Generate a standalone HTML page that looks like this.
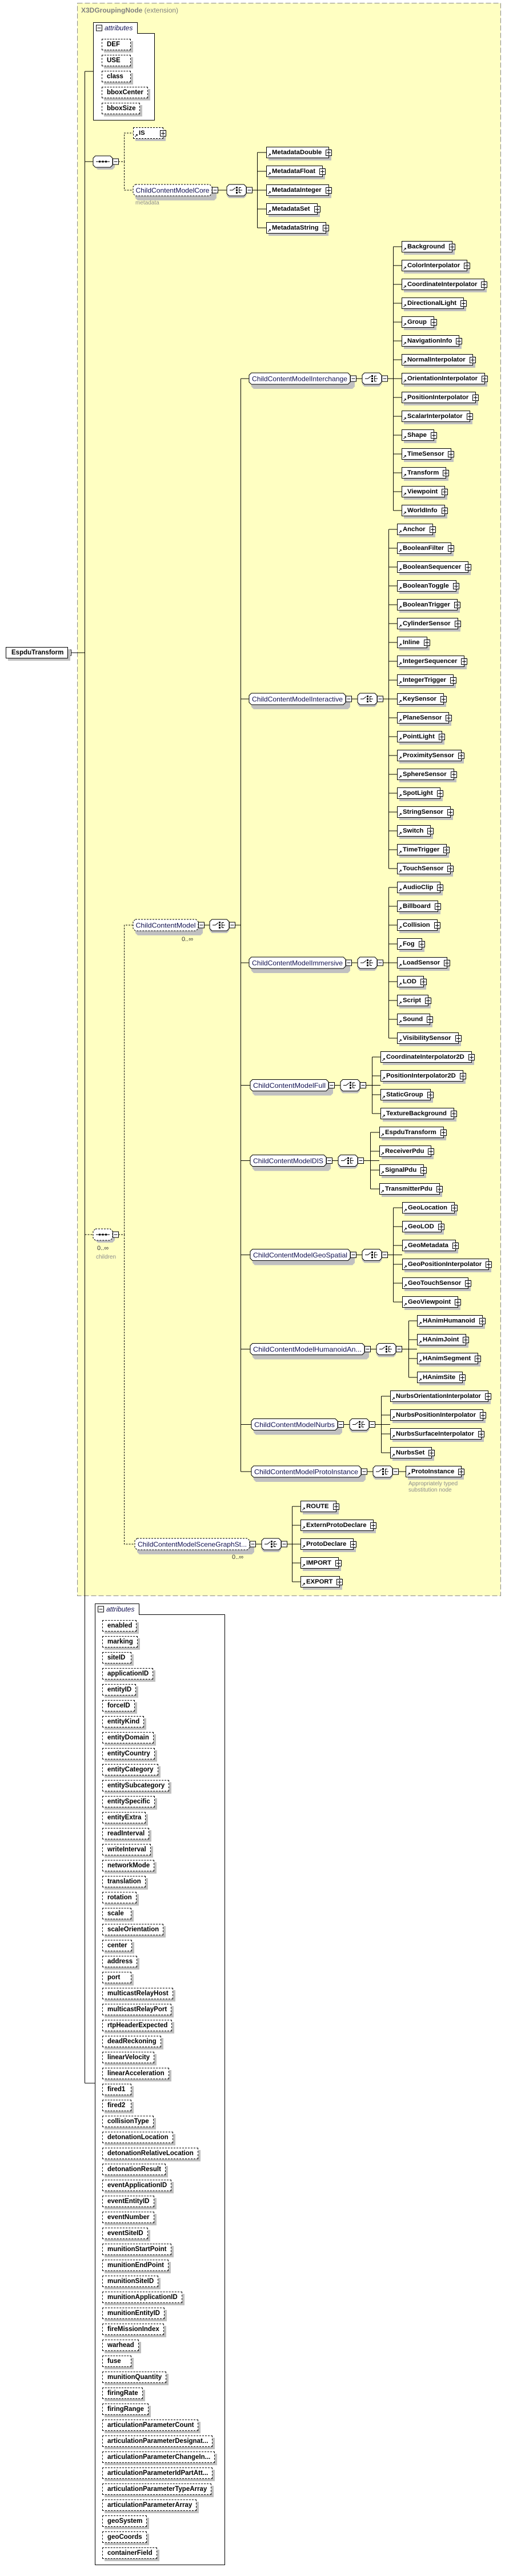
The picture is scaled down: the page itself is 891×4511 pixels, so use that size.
<!DOCTYPE html>
<html><head><meta charset="utf-8">
<style>
html,body{margin:0;padding:0;background:#fff}
#pg{position:relative;width:891px;height:4511px;overflow:hidden;background:#fff;font-family:"Liberation Sans",Arial,sans-serif}
svg{position:absolute;left:0;top:0}
.e,.a,.rt{position:absolute;height:18px;line-height:18px;background:#fff;box-shadow:4px 4px 0 #c0c0c0;font-weight:bold;font-size:11.3px;white-space:nowrap;color:#000}
.e{border:1px solid #000;padding:0 12px 0 9px}
.e.d{border-style:dashed}
.a{border:1px dashed #000;padding:0 7px 0 8px;min-width:34px;font-size:11.5px}
.rt{border:1px solid #000;box-sizing:border-box;height:20px;padding-left:9px;font-size:11.5px}
.e i{position:absolute;right:-6px;top:4px;width:9px;height:9px;border:1px solid #000;background:#fff}
.e i:before{content:"";position:absolute;left:1px;top:4px;width:7px;height:1px;background:#000}
.e i:after{content:"";position:absolute;left:4px;top:1px;width:1px;height:7px;background:#000}
.e b{position:absolute;left:1px;bottom:0;font-size:8px;line-height:8px}
.g{font-size:10px;fill:#8c8c8c}
</style></head><body><div id="pg">
<svg width="891" height="4511" viewBox="0 0 891 4511">
<defs>
<symbol id="mn" overflow="visible"><rect x="0.5" y="-5" width="10" height="10" fill="#fff" stroke="#000"/><path d="M2.5 0H8.5" stroke="#000"/></symbol>
<symbol id="sel" overflow="visible"><path d="M4 -6H30L34 -2V10L30 14H4L0 10V-2Z" fill="#c0c0c0" transform="translate(0,0)"/><path d="M4 -10H30L34 -6V6L30 10H4L0 6V-6Z" fill="#fff" stroke="#000"/><path d="M5 0H10L15 -4M21.5 -5V5M21.5 -4.5H25M21.5 4.5H25M21.5 0H27" stroke="#000" fill="none"/><rect x="16" y="-6" width="3" height="3"/><rect x="16" y="-1.5" width="3" height="3"/><rect x="16" y="3" width="3" height="3"/></symbol>
<symbol id="seq" overflow="visible"><path d="M8 -6H34L38 -2V10L34 14H8L4 10V-2Z" fill="#c0c0c0"/><path d="M4 -10H30L34 -6V6L30 10H4L0 6V-6Z" fill="#fff" stroke="#000"/><path d="M5 0H29" stroke="#000"/><rect x="10" y="-1.5" width="3" height="3"/><rect x="15.5" y="-1.5" width="3" height="3"/><rect x="21" y="-1.5" width="3" height="3"/></symbol>
<symbol id="seqd" overflow="visible"><path d="M8 -6H34L38 -2V10L34 14H8L4 10V-2Z" fill="#c0c0c0"/><path d="M4 -10H30L34 -6V6L30 10H4L0 6V-6Z" fill="#fff" stroke="#000" stroke-dasharray="3,2"/><path d="M5 0H29" stroke="#000"/><rect x="10" y="-1.5" width="3" height="3"/><rect x="15.5" y="-1.5" width="3" height="3"/><rect x="21" y="-1.5" width="3" height="3"/></symbol>
</defs>
<rect x="135.5" y="5.5" width="741" height="2789" fill="#ffffc2" stroke="#8a8a8a" stroke-dasharray="9,4"/>
<text x="142" y="22" font-size="12" fill="#808080"><tspan font-weight="bold">X3DGroupingNode</tspan> (extension)</text>

<g stroke="#000" fill="none">
<path d="M148.5 125V3648"/>
<path d="M124 1143H148.5M148.5 125H163M148.5 283H163M148.5 3648H166"/>
<path d="M148.5 2162H163" stroke-dasharray="3,2"/>
<path d="M207 283H217.5V233H233M217.5 283V333H233" stroke-dasharray="3,2"/>
<path d="M207 2162H217.5V1620H233M217.5 2162V2704H236" stroke-dasharray="3,2"/>
<path d="M421.5 663V2577"/>
<path d="M421.5 663H436M421.5 1224H436M421.5 1686H436M421.5 1900.5H438M421.5 2032.5H438M421.5 2197.5H438M421.5 2362.5H438M421.5 2494.5H440M421.5 2577H440"/>
</g>

<!-- attributes boxes -->
<path d="M163.5 39.5H240.5V58.5H270.5V210.5H163.5Z" fill="#fff" stroke="#000"/>
<use href="#mn" x="168" y="49"/>
<text x="183" y="53" font-size="12" font-style="italic" fill="#101050">attributes</text>
<path d="M166.5 2808.5H243.5V2827.5H393.5V4491.5H166.5Z" fill="#fff" stroke="#000"/>
<use href="#mn" x="171" y="2818"/>
<text x="186" y="2822" font-size="12" font-style="italic" fill="#101050">attributes</text>

<!-- root minus -->
<use href="#mn" x="114" y="1143"/>

<!-- sequence 1 -->
<use href="#seq" x="163" y="283"/><use href="#mn" x="197" y="283"/>
<!-- sequence 2 -->
<use href="#seqd" x="163" y="2162"/><use href="#mn" x="197" y="2162"/>
<text x="170" y="2189" font-size="11" fill="#333">0..∞</text>
<text x="168" y="2204" class="g">children</text>

<!-- Core -->
<g transform="translate(0,333)">
<path d="M237 -6H371L375 -2V10L371 14H237L233 10V-2Z" transform="translate(4,4)" fill="#c0c0c0"/>
<path d="M237 -10H367L371 -6V6L367 10H237L233 6V-6Z" fill="#fff" stroke="#000" stroke-dasharray="3,2"/>
<text x="237.5" y="4.5" font-size="12" fill="#101050" textLength="129" lengthAdjust="spacingAndGlyphs">ChildContentModelCore</text>
<use href="#mn" x="371"/><path d="M382 0H397M442 0H466M450.5 -66V66M450.5 -66H466M450.5 -33H466M450.5 33H466M450.5 66H466" stroke="#000" fill="none"/>
<use href="#sel" x="397"/><use href="#mn" x="431"/>
</g>
<text x="237" y="358" class="g">metadata</text>

<!-- ChildContentModel -->
<g transform="translate(0,1620)">
<path d="M237 -6H347L351 -2V10L347 14H237L233 10V-2Z" transform="translate(4,4)" fill="#c0c0c0"/>
<path d="M237 -10H343L347 -6V6L343 10H237L233 6V-6Z" fill="#fff" stroke="#000" stroke-dasharray="3,2"/>
<text x="237.5" y="4.5" font-size="12" fill="#101050" textLength="105" lengthAdjust="spacingAndGlyphs">ChildContentModel</text>
<use href="#mn" x="347"/><path d="M358 0H367M412 0H421.5" stroke="#000"/>
<use href="#sel" x="367"/><use href="#mn" x="401"/>
</g>
<text x="318" y="1648" font-size="11" fill="#333">0..∞</text>

<!-- Interchange -->
<g transform="translate(0,663)">
<path d="M440 -6H613L617 -2V10L613 14H440L436 10V-2Z" transform="translate(4,4)" fill="#c0c0c0"/>
<path d="M440 -10H609L613 -6V6L609 10H440L436 6V-6Z" fill="#fff" stroke="#000"/>
<text x="441" y="4.5" font-size="12" fill="#101050" textLength="167" lengthAdjust="spacingAndGlyphs">ChildContentModelInterchange</text>
<use href="#mn" x="613"/><use href="#sel" x="634"/><use href="#mn" x="668"/>
<path d="M624 0H634M679 0H703M688.5 -231V231" stroke="#000" fill="none"/>
</g>
<path d="M688.5 432H703M688.5 465H703M688.5 498H703M688.5 531H703M688.5 564H703M688.5 597H703M688.5 630H703M688.5 696H703M688.5 729H703M688.5 762H703M688.5 795H703M688.5 828H703M688.5 861H703M688.5 894H703" stroke="#000"/>

<!-- Interactive -->
<g transform="translate(0,1224)">
<path d="M440 -6H605L609 -2V10L605 14H440L436 10V-2Z" transform="translate(4,4)" fill="#c0c0c0"/>
<path d="M440 -10H601L605 -6V6L601 10H440L436 6V-6Z" fill="#fff" stroke="#000"/>
<text x="441" y="4.5" font-size="12" fill="#101050" textLength="159" lengthAdjust="spacingAndGlyphs">ChildContentModelInteractive</text>
<use href="#mn" x="605"/><use href="#sel" x="626"/><use href="#mn" x="660"/>
<path d="M616 0H626M671 0H695M680.5 -297V297" stroke="#000" fill="none"/>
</g>
<path d="M680.5 927H695M680.5 960H695M680.5 993H695M680.5 1026H695M680.5 1059H695M680.5 1092H695M680.5 1125H695M680.5 1158H695M680.5 1191H695M680.5 1257H695M680.5 1290H695M680.5 1323H695M680.5 1356H695M680.5 1389H695M680.5 1422H695M680.5 1455H695M680.5 1488H695M680.5 1521H695" stroke="#000"/>

<!-- Immersive -->
<g transform="translate(0,1686)">
<path d="M440 -6H605L609 -2V10L605 14H440L436 10V-2Z" transform="translate(4,4)" fill="#c0c0c0"/>
<path d="M440 -10H601L605 -6V6L601 10H440L436 6V-6Z" fill="#fff" stroke="#000"/>
<text x="441" y="4.5" font-size="12" fill="#101050" textLength="159" lengthAdjust="spacingAndGlyphs">ChildContentModelImmersive</text>
<use href="#mn" x="605"/><use href="#sel" x="626"/><use href="#mn" x="660"/>
<path d="M616 0H626M671 0H695M680.5 -132V132" stroke="#000" fill="none"/>
</g>
<path d="M680.5 1554H695M680.5 1587H695M680.5 1620H695M680.5 1653H695M680.5 1719H695M680.5 1752H695M680.5 1785H695M680.5 1818H695" stroke="#000"/>

<!-- Full -->
<g transform="translate(0,1900.5)">
<path d="M442 -6H575L579 -2V10L575 14H442L438 10V-2Z" transform="translate(4,4)" fill="#c0c0c0"/>
<path d="M442 -10H571L575 -6V6L571 10H442L438 6V-6Z" fill="#fff" stroke="#000"/>
<text x="443" y="4.5" font-size="12" fill="#101050" textLength="127" lengthAdjust="spacingAndGlyphs">ChildContentModelFull</text>
<use href="#mn" x="575"/><use href="#sel" x="596"/><use href="#mn" x="630"/>
<path d="M586 0H596M641 0H666M651.5 -49.5V49.5M651.5 -49.5H666M651.5 -16.5H666M651.5 16.5H666M651.5 49.5H666" stroke="#000" fill="none"/>
</g>

<!-- DIS -->
<g transform="translate(0,2032.5)">
<path d="M442 -6H571L575 -2V10L571 14H442L438 10V-2Z" transform="translate(4,4)" fill="#c0c0c0"/>
<path d="M442 -10H567L571 -6V6L567 10H442L438 6V-6Z" fill="#fff" stroke="#000"/>
<text x="443" y="4.5" font-size="12" fill="#101050" textLength="123" lengthAdjust="spacingAndGlyphs">ChildContentModelDIS</text>
<use href="#mn" x="571"/><use href="#sel" x="592"/><use href="#mn" x="626"/>
<path d="M582 0H592M637 0H664M648.5 -49.5V49.5M648.5 -49.5H664M648.5 -16.5H664M648.5 16.5H664M648.5 49.5H664" stroke="#000" fill="none"/>
</g>

<!-- GeoSpatial -->
<g transform="translate(0,2197.5)">
<path d="M442 -6H613L617 -2V10L613 14H442L438 10V-2Z" transform="translate(4,4)" fill="#c0c0c0"/>
<path d="M442 -10H609L613 -6V6L609 10H442L438 6V-6Z" fill="#fff" stroke="#000"/>
<text x="443" y="4.5" font-size="12" fill="#101050" textLength="165" lengthAdjust="spacingAndGlyphs">ChildContentModelGeoSpatial</text>
<use href="#mn" x="613"/><use href="#sel" x="634"/><use href="#mn" x="668"/>
<path d="M624 0H634M679 0H704M688.5 -82.5V82.5M688.5 -82.5H704M688.5 -49.5H704M688.5 -16.5H704M688.5 16.5H704M688.5 49.5H704M688.5 82.5H704" stroke="#000" fill="none"/>
</g>

<!-- HAnim -->
<g transform="translate(0,2362.5)">
<path d="M442 -6H638L642 -2V10L638 14H442L438 10V-2Z" transform="translate(4,4)" fill="#c0c0c0"/>
<path d="M442 -10H634L638 -6V6L634 10H442L438 6V-6Z" fill="#fff" stroke="#000"/>
<text x="443" y="4.5" font-size="12" fill="#101050" textLength="190" lengthAdjust="spacingAndGlyphs">ChildContentModelHumanoidAn...</text>
<use href="#mn" x="638"/><use href="#sel" x="659"/><use href="#mn" x="693"/>
<path d="M649 0H659M704 0H730M715.5 -49.5V49.5M715.5 -49.5H730M715.5 -16.5H730M715.5 16.5H730M715.5 49.5H730" stroke="#000" fill="none"/>
</g>

<!-- Nurbs -->
<g transform="translate(0,2494.5)">
<path d="M444 -6H591L595 -2V10L591 14H444L440 10V-2Z" transform="translate(4,4)" fill="#c0c0c0"/>
<path d="M444 -10H587L591 -6V6L587 10H444L440 6V-6Z" fill="#fff" stroke="#000"/>
<text x="445" y="4.5" font-size="12" fill="#101050" textLength="141" lengthAdjust="spacingAndGlyphs">ChildContentModelNurbs</text>
<use href="#mn" x="591"/><use href="#sel" x="612"/><use href="#mn" x="646"/>
<path d="M602 0H612M657 0H683M667.5 -49.5V49.5M667.5 -49.5H683M667.5 -16.5H683M667.5 16.5H683M667.5 49.5H683" stroke="#000" fill="none"/>
</g>

<!-- ProtoInstance -->
<g transform="translate(0,2577)">
<path d="M444 -6H632L636 -2V10L632 14H444L440 10V-2Z" transform="translate(4,4)" fill="#c0c0c0"/>
<path d="M444 -10H628L632 -6V6L628 10H444L440 6V-6Z" fill="#fff" stroke="#000"/>
<text x="445" y="4.5" font-size="12" fill="#101050" textLength="182" lengthAdjust="spacingAndGlyphs">ChildContentModelProtoInstance</text>
<use href="#mn" x="632"/><use href="#sel" x="653"/><use href="#mn" x="687"/>
<path d="M643 0H653M698 0H710" stroke="#000" fill="none"/>
</g>
<text x="715" y="2601" class="g" font-size="9.5">Appropriately typed</text>
<text x="715" y="2612" class="g" font-size="9.5">substitution node</text>

<!-- SceneGraph -->
<g transform="translate(0,2704)">
<path d="M240 -6H437L441 -2V10L437 14H240L236 10V-2Z" transform="translate(4,4)" fill="#c0c0c0"/>
<path d="M240 -10H433L437 -6V6L433 10H240L236 6V-6Z" fill="#fff" stroke="#000" stroke-dasharray="3,2"/>
<text x="241" y="4.5" font-size="12" fill="#101050" textLength="191" lengthAdjust="spacingAndGlyphs">ChildContentModelSceneGraphSt...</text>
<use href="#mn" x="437"/><use href="#sel" x="458"/><use href="#mn" x="492"/>
<path d="M448 0H458M503 0H526M511.5 -66V66M511.5 -66H526M511.5 -33H526M511.5 33H526M511.5 66H526" stroke="#000" fill="none"/>
</g>
<text x="406" y="2730" font-size="11" fill="#333">0..∞</text>
</svg>

<!-- root -->
<div class="rt" style="left:10px;top:1133px;width:109px">EspduTransform</div>

<!-- attributes 1 -->
<div class="a" style="left:178px;top:68px">DEF</div>
<div class="a" style="left:178px;top:96px">USE</div>
<div class="a" style="left:178px;top:124px">class</div>
<div class="a" style="left:178px;top:152px">bboxCenter</div>
<div class="a" style="left:178px;top:180px">bboxSize</div>

<!-- IS -->
<div class="e d" style="left:233px;top:223px;width:30px"><b>↗</b>IS<i></i></div>

<!-- Metadata -->
<div class="e" style="left:466px;top:257px"><b>↗</b>MetadataDouble<i></i></div>
<div class="e" style="left:466px;top:290px"><b>↗</b>MetadataFloat<i></i></div>
<div class="e" style="left:466px;top:323px"><b>↗</b>MetadataInteger<i></i></div>
<div class="e" style="left:466px;top:356px"><b>↗</b>MetadataSet<i></i></div>
<div class="e" style="left:466px;top:389px"><b>↗</b>MetadataString<i></i></div>

<!-- Interchange -->
<div class="e" style="left:703px;top:422px"><b>↗</b>Background<i></i></div>
<div class="e" style="left:703px;top:455px"><b>↗</b>ColorInterpolator<i></i></div>
<div class="e" style="left:703px;top:488px"><b>↗</b>CoordinateInterpolator<i></i></div>
<div class="e" style="left:703px;top:521px"><b>↗</b>DirectionalLight<i></i></div>
<div class="e" style="left:703px;top:554px"><b>↗</b>Group<i></i></div>
<div class="e" style="left:703px;top:587px"><b>↗</b>NavigationInfo<i></i></div>
<div class="e" style="left:703px;top:620px"><b>↗</b>NormalInterpolator<i></i></div>
<div class="e" style="left:703px;top:653px"><b>↗</b>OrientationInterpolator<i></i></div>
<div class="e" style="left:703px;top:686px"><b>↗</b>PositionInterpolator<i></i></div>
<div class="e" style="left:703px;top:719px"><b>↗</b>ScalarInterpolator<i></i></div>
<div class="e" style="left:703px;top:752px"><b>↗</b>Shape<i></i></div>
<div class="e" style="left:703px;top:785px"><b>↗</b>TimeSensor<i></i></div>
<div class="e" style="left:703px;top:818px"><b>↗</b>Transform<i></i></div>
<div class="e" style="left:703px;top:851px"><b>↗</b>Viewpoint<i></i></div>
<div class="e" style="left:703px;top:884px"><b>↗</b>WorldInfo<i></i></div>

<!-- Interactive -->
<div class="e" style="left:695px;top:917px"><b>↗</b>Anchor<i></i></div>
<div class="e" style="left:695px;top:950px"><b>↗</b>BooleanFilter<i></i></div>
<div class="e" style="left:695px;top:983px"><b>↗</b>BooleanSequencer<i></i></div>
<div class="e" style="left:695px;top:1016px"><b>↗</b>BooleanToggle<i></i></div>
<div class="e" style="left:695px;top:1049px"><b>↗</b>BooleanTrigger<i></i></div>
<div class="e" style="left:695px;top:1082px"><b>↗</b>CylinderSensor<i></i></div>
<div class="e" style="left:695px;top:1115px"><b>↗</b>Inline<i></i></div>
<div class="e" style="left:695px;top:1148px"><b>↗</b>IntegerSequencer<i></i></div>
<div class="e" style="left:695px;top:1181px"><b>↗</b>IntegerTrigger<i></i></div>
<div class="e" style="left:695px;top:1214px"><b>↗</b>KeySensor<i></i></div>
<div class="e" style="left:695px;top:1247px"><b>↗</b>PlaneSensor<i></i></div>
<div class="e" style="left:695px;top:1280px"><b>↗</b>PointLight<i></i></div>
<div class="e" style="left:695px;top:1313px"><b>↗</b>ProximitySensor<i></i></div>
<div class="e" style="left:695px;top:1346px"><b>↗</b>SphereSensor<i></i></div>
<div class="e" style="left:695px;top:1379px"><b>↗</b>SpotLight<i></i></div>
<div class="e" style="left:695px;top:1412px"><b>↗</b>StringSensor<i></i></div>
<div class="e" style="left:695px;top:1445px"><b>↗</b>Switch<i></i></div>
<div class="e" style="left:695px;top:1478px"><b>↗</b>TimeTrigger<i></i></div>
<div class="e" style="left:695px;top:1511px"><b>↗</b>TouchSensor<i></i></div>

<!-- Immersive -->
<div class="e" style="left:695px;top:1544px"><b>↗</b>AudioClip<i></i></div>
<div class="e" style="left:695px;top:1577px"><b>↗</b>Billboard<i></i></div>
<div class="e" style="left:695px;top:1610px"><b>↗</b>Collision<i></i></div>
<div class="e" style="left:695px;top:1643px"><b>↗</b>Fog<i></i></div>
<div class="e" style="left:695px;top:1676px"><b>↗</b>LoadSensor<i></i></div>
<div class="e" style="left:695px;top:1709px"><b>↗</b>LOD<i></i></div>
<div class="e" style="left:695px;top:1742px"><b>↗</b>Script<i></i></div>
<div class="e" style="left:695px;top:1775px"><b>↗</b>Sound<i></i></div>
<div class="e" style="left:695px;top:1808px"><b>↗</b>VisibilitySensor<i></i></div>

<!-- Full -->
<div class="e" style="left:666px;top:1841px"><b>↗</b>CoordinateInterpolator2D<i></i></div>
<div class="e" style="left:666px;top:1874px"><b>↗</b>PositionInterpolator2D<i></i></div>
<div class="e" style="left:666px;top:1907px"><b>↗</b>StaticGroup<i></i></div>
<div class="e" style="left:666px;top:1940px"><b>↗</b>TextureBackground<i></i></div>

<!-- DIS -->
<div class="e" style="left:664px;top:1973px"><b>↗</b>EspduTransform<i></i></div>
<div class="e" style="left:664px;top:2006px"><b>↗</b>ReceiverPdu<i></i></div>
<div class="e" style="left:664px;top:2039px"><b>↗</b>SignalPdu<i></i></div>
<div class="e" style="left:664px;top:2072px"><b>↗</b>TransmitterPdu<i></i></div>

<!-- Geo -->
<div class="e" style="left:704px;top:2105px"><b>↗</b>GeoLocation<i></i></div>
<div class="e" style="left:704px;top:2138px"><b>↗</b>GeoLOD<i></i></div>
<div class="e" style="left:704px;top:2171px"><b>↗</b>GeoMetadata<i></i></div>
<div class="e" style="left:704px;top:2204px"><b>↗</b>GeoPositionInterpolator<i></i></div>
<div class="e" style="left:704px;top:2237px"><b>↗</b>GeoTouchSensor<i></i></div>
<div class="e" style="left:704px;top:2270px"><b>↗</b>GeoViewpoint<i></i></div>

<!-- HAnim -->
<div class="e" style="left:730px;top:2303px"><b>↗</b>HAnimHumanoid<i></i></div>
<div class="e" style="left:730px;top:2336px"><b>↗</b>HAnimJoint<i></i></div>
<div class="e" style="left:730px;top:2369px"><b>↗</b>HAnimSegment<i></i></div>
<div class="e" style="left:730px;top:2402px"><b>↗</b>HAnimSite<i></i></div>

<!-- Nurbs -->
<div class="e" style="left:683px;top:2435px;font-size:10.8px"><b>↗</b>NurbsOrientationInterpolator<i></i></div>
<div class="e" style="left:683px;top:2468px"><b>↗</b>NurbsPositionInterpolator<i></i></div>
<div class="e" style="left:683px;top:2501px"><b>↗</b>NurbsSurfaceInterpolator<i></i></div>
<div class="e" style="left:683px;top:2534px"><b>↗</b>NurbsSet<i></i></div>

<!-- ProtoInstance -->
<div class="e" style="left:710px;top:2567px"><b>↗</b>ProtoInstance<i></i></div>

<!-- SceneGraph -->
<div class="e" style="left:526px;top:2628px"><b>↗</b>ROUTE<i></i></div>
<div class="e" style="left:526px;top:2661px"><b>↗</b>ExternProtoDeclare<i></i></div>
<div class="e" style="left:526px;top:2694px"><b>↗</b>ProtoDeclare<i></i></div>
<div class="e" style="left:526px;top:2727px"><b>↗</b>IMPORT<i></i></div>
<div class="e" style="left:526px;top:2760px"><b>↗</b>EXPORT<i></i></div>

<!-- attributes 2 -->
<div class="a" style="left:179px;top:2837px">enabled</div>
<div class="a" style="left:179px;top:2865px">marking</div>
<div class="a" style="left:179px;top:2893px">siteID</div>
<div class="a" style="left:179px;top:2921px">applicationID</div>
<div class="a" style="left:179px;top:2949px">entityID</div>
<div class="a" style="left:179px;top:2977px">forceID</div>
<div class="a" style="left:179px;top:3005px">entityKind</div>
<div class="a" style="left:179px;top:3033px">entityDomain</div>
<div class="a" style="left:179px;top:3061px">entityCountry</div>
<div class="a" style="left:179px;top:3089px">entityCategory</div>
<div class="a" style="left:179px;top:3117px">entitySubcategory</div>
<div class="a" style="left:179px;top:3145px">entitySpecific</div>
<div class="a" style="left:179px;top:3173px">entityExtra</div>
<div class="a" style="left:179px;top:3201px">readInterval</div>
<div class="a" style="left:179px;top:3229px">writeInterval</div>
<div class="a" style="left:179px;top:3257px">networkMode</div>
<div class="a" style="left:179px;top:3285px">translation</div>
<div class="a" style="left:179px;top:3313px">rotation</div>
<div class="a" style="left:179px;top:3341px">scale</div>
<div class="a" style="left:179px;top:3369px">scaleOrientation</div>
<div class="a" style="left:179px;top:3397px">center</div>
<div class="a" style="left:179px;top:3425px">address</div>
<div class="a" style="left:179px;top:3453px">port</div>
<div class="a" style="left:179px;top:3481px">multicastRelayHost</div>
<div class="a" style="left:179px;top:3509px">multicastRelayPort</div>
<div class="a" style="left:179px;top:3537px">rtpHeaderExpected</div>
<div class="a" style="left:179px;top:3565px">deadReckoning</div>
<div class="a" style="left:179px;top:3593px">linearVelocity</div>
<div class="a" style="left:179px;top:3621px">linearAcceleration</div>
<div class="a" style="left:179px;top:3649px">fired1</div>
<div class="a" style="left:179px;top:3677px">fired2</div>
<div class="a" style="left:179px;top:3705px">collisionType</div>
<div class="a" style="left:179px;top:3733px">detonationLocation</div>
<div class="a" style="left:179px;top:3761px">detonationRelativeLocation</div>
<div class="a" style="left:179px;top:3789px">detonationResult</div>
<div class="a" style="left:179px;top:3817px">eventApplicationID</div>
<div class="a" style="left:179px;top:3845px">eventEntityID</div>
<div class="a" style="left:179px;top:3873px">eventNumber</div>
<div class="a" style="left:179px;top:3901px">eventSiteID</div>
<div class="a" style="left:179px;top:3929px">munitionStartPoint</div>
<div class="a" style="left:179px;top:3957px">munitionEndPoint</div>
<div class="a" style="left:179px;top:3985px">munitionSiteID</div>
<div class="a" style="left:179px;top:4013px">munitionApplicationID</div>
<div class="a" style="left:179px;top:4041px">munitionEntityID</div>
<div class="a" style="left:179px;top:4069px">fireMissionIndex</div>
<div class="a" style="left:179px;top:4097px">warhead</div>
<div class="a" style="left:179px;top:4125px">fuse</div>
<div class="a" style="left:179px;top:4153px">munitionQuantity</div>
<div class="a" style="left:179px;top:4181px">firingRate</div>
<div class="a" style="left:179px;top:4209px">firingRange</div>
<div class="a" style="left:179px;top:4237px">articulationParameterCount</div>
<div class="a" style="left:179px;top:4265px">articulationParameterDesignat...</div>
<div class="a" style="left:179px;top:4293px">articulationParameterChangeIn...</div>
<div class="a" style="left:179px;top:4321px">articulationParameterIdPartAtt...</div>
<div class="a" style="left:179px;top:4349px">articulationParameterTypeArray</div>
<div class="a" style="left:179px;top:4377px">articulationParameterArray</div>
<div class="a" style="left:179px;top:4405px">geoSystem</div>
<div class="a" style="left:179px;top:4433px">geoCoords</div>
<div class="a" style="left:179px;top:4461px">containerField</div>
</div></body></html>
